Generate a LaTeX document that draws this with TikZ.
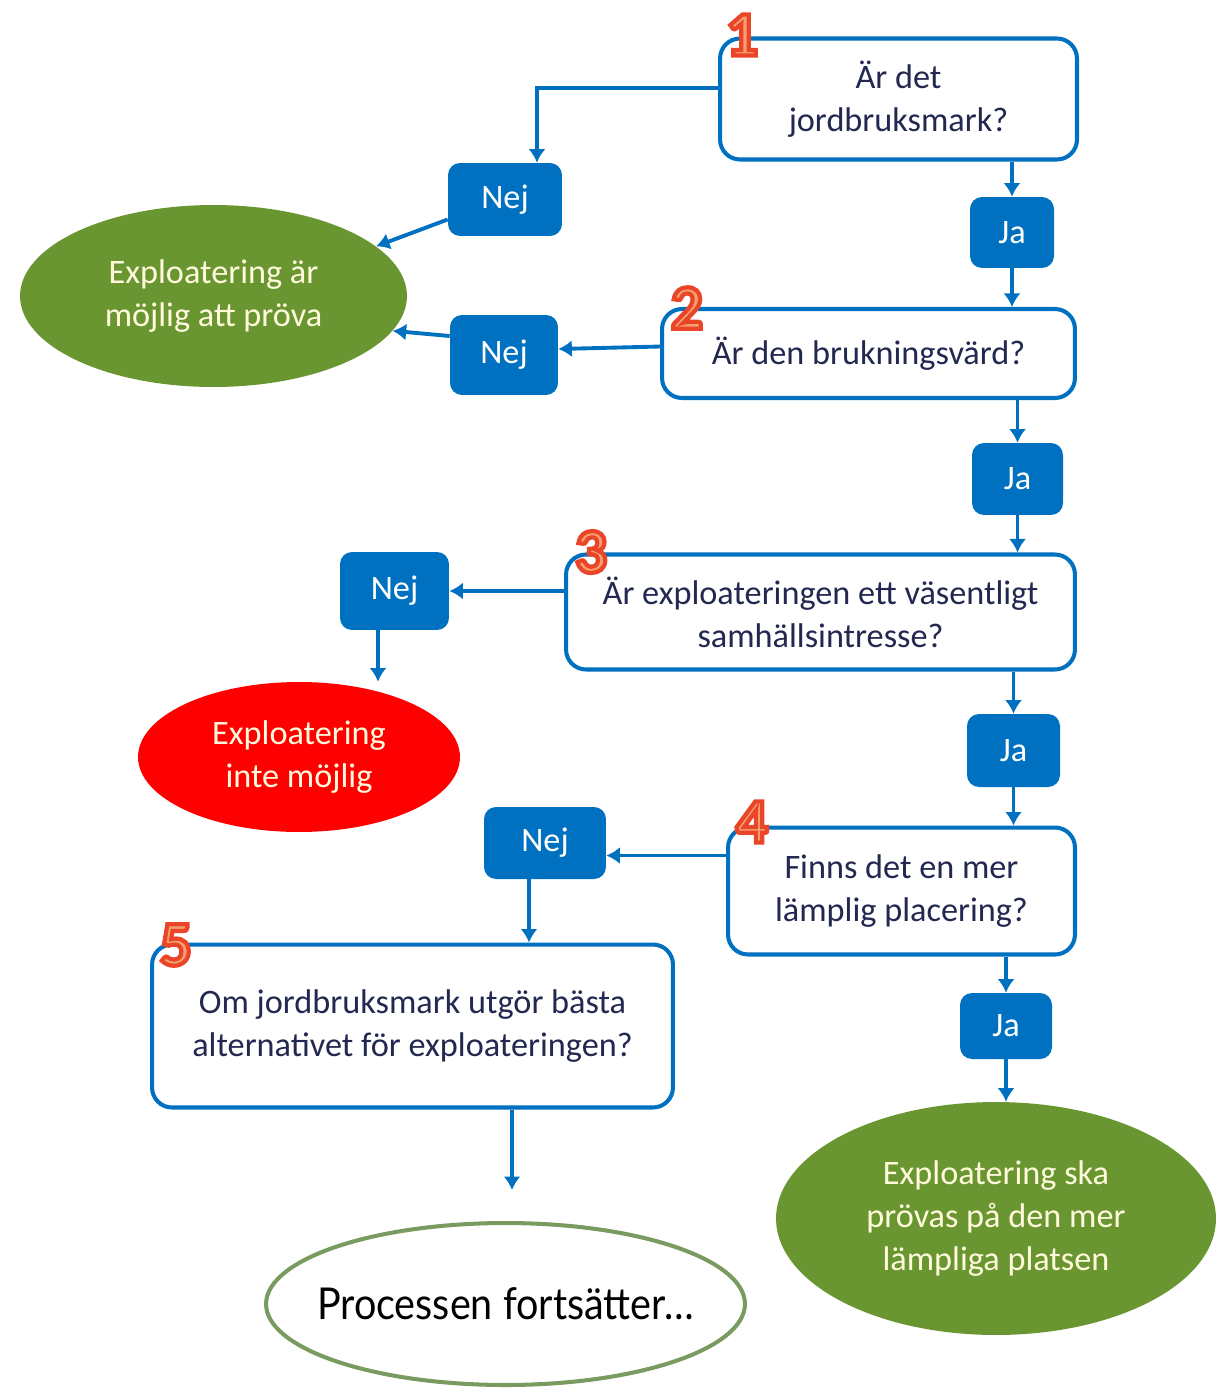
\documentclass[tikz,border=0pt]{standalone}
\usepackage{fontspec}
\setmainfont{Carlito}
\newfontfamily\condfont[FakeStretch=0.9]{Lato}
\usetikzlibrary{shapes.geometric,arrows.meta}

\definecolor{qblue}{RGB}{0,112,192}
\definecolor{qtext}{RGB}{35,40,80}
\definecolor{qgreen}{RGB}{106,150,50}
\definecolor{qred}{RGB}{255,0,0}
\definecolor{qcream}{RGB}{255,250,220}
\definecolor{qolive}{RGB}{122,155,95}
\definecolor{numfill}{RGB}{244,160,110}

\newcommand\rimtext[1]{\special{pdf:literal direct 2 Tr 2.4 w 0.92 0.27 0.16 RG}#1\special{pdf:literal direct 0 Tr}}

\begin{document}
\begin{tikzpicture}[x=0.02cm, y=-0.02cm,
  txt/.style={font=\fontsize{19.5pt}{24.5pt}\selectfont, align=center, inner sep=0pt},
  question/.style={txt, draw=qblue, line width=2.3pt, rounded corners=0.4cm, fill=white, text=qtext},
  answer/.style={txt, fill=qblue, rounded corners=0.24cm, text=white},
  endnode/.style={txt, ellipse, text=qcream},
  arr/.style={draw=qblue, line width=2.2pt, -{Latex[length=0.27cm,width=0.34cm]}},
  stepno/.style={font=\fontsize{36pt}{36pt}\selectfont\bfseries, text=numfill, inner sep=0pt}]

\useasboundingbox (0,0) rectangle (1216,1389);

\node[question, minimum width=7.14cm, minimum height=2.42cm] (b1) at (898.5,99) {Är det\\jordbruksmark?};
\node[question, minimum width=8.26cm, minimum height=1.78cm] (b2) at (868.5,353.5) {Är den brukningsvärd?};
\node[question, minimum width=10.18cm, minimum height=2.3cm] (b3) at (820.5,612) {Är exploateringen ett väsentligt\\samhällsintresse?};
\node[question, minimum width=6.94cm, minimum height=2.54cm] (b4) at (901.5,891) {Finns det en mer\\lämplig placering?};
\node[question, minimum width=10.42cm, minimum height=3.26cm] (b5) at (412.5,1026) {Om jordbruksmark utgör bästa\\alternativet för exploateringen?};

\node[answer, minimum width=2.28cm, minimum height=1.46cm] (n1) at (505,199.5) {Nej};
\node[answer, minimum width=2.16cm, minimum height=1.6cm] (n2) at (504,355) {Nej};
\node[answer, minimum width=2.18cm, minimum height=1.56cm] (n3) at (394.5,591) {Nej};
\node[answer, minimum width=2.44cm, minimum height=1.44cm] (n4) at (545,843) {Nej};

\node[answer, minimum width=1.68cm, minimum height=1.42cm] (j1) at (1012,232.5) {Ja};
\node[answer, minimum width=1.82cm, minimum height=1.44cm] (j2) at (1017.5,479) {Ja};
\node[answer, minimum width=1.86cm, minimum height=1.46cm] (j3) at (1013.5,750.5) {Ja};
\node[answer, minimum width=1.84cm, minimum height=1.32cm] (j4) at (1006,1026) {Ja};

\node[endnode, fill=qgreen, minimum width=7.74cm, minimum height=3.64cm] (e1) at (213.5,296) {Exploatering är\\möjlig att pröva};
\node[endnode, fill=qred, minimum width=6.44cm, minimum height=3cm] (e2) at (299,757) {Exploatering\\inte möjlig};
\node[endnode, fill=qgreen, minimum width=8.8cm, minimum height=4.66cm] (e3) at (996,1218.5) {Exploatering ska\\prövas på den mer\\lämpliga platsen};
\node[ellipse, draw=qolive, line width=2.3pt, fill=white, minimum width=9.58cm, minimum height=3.24cm, inner sep=0pt, inner xsep=-0.6cm,
  font=\condfont\fontsize{25pt}{25pt}\selectfont] (e4) at (505.5,1304) {Processen fortsätter…};

\node[stepno] (s1) at (742,35) {\rimtext{1}};
\node[stepno] (s2) at (687,308) {\rimtext{2}};
\node[stepno] (s3) at (591,552) {\rimtext{3}};
\node[stepno] (s4) at (752,822) {\rimtext{4}};
\node[stepno] (s5) at (176,945) {\rimtext{5}};

\coordinate (free) at (512,1190);

\draw[arr] ([yshift=0.22cm]b1.west) -| ([xshift=0.64cm]n1.north);
\draw[arr] ([yshift=-0.4cm]n1.west) -- (e1.17);
\draw[arr] (j1 |- b1.south) -- (j1.north);
\draw[arr] (j1.south) -- (j1 |- b2.north);
\draw[arr] ([yshift=0.14cm]b2.west) -- ([yshift=0.12cm]n2.east);
\draw[arr] ([yshift=0.38cm]n2.west) -- (e1.-11);
\draw[arr] (j2 |- b2.south) -- (j2.north);
\draw[arr] (j2.south) -- (j2 |- b3.north);
\draw[arr] (b3.west |- n3) -- (n3.east);
\draw[arr] ([xshift=-0.33cm]n3.south) -- ([xshift=-0.33cm]n3.south |- e2.north);
\draw[arr] (j3 |- b3.south) -- (j3.north);
\draw[arr] (j3.south) -- (j3 |- b4.north);
\draw[arr] ([yshift=0.71cm]b4.west) -- ([yshift=0.71cm]b4.west -| n4.east);
\draw[arr] ([xshift=-0.32cm]n4.south) -- ([xshift=-0.32cm]n4.south |- b5.north);
\draw[arr] (j4 |- b4.south) -- (j4.north);
\draw[arr] (j4.south) -- (j4 |- e3.north);
\draw[arr] (free |- b5.south) -- (free);

\end{tikzpicture}
\end{document}
